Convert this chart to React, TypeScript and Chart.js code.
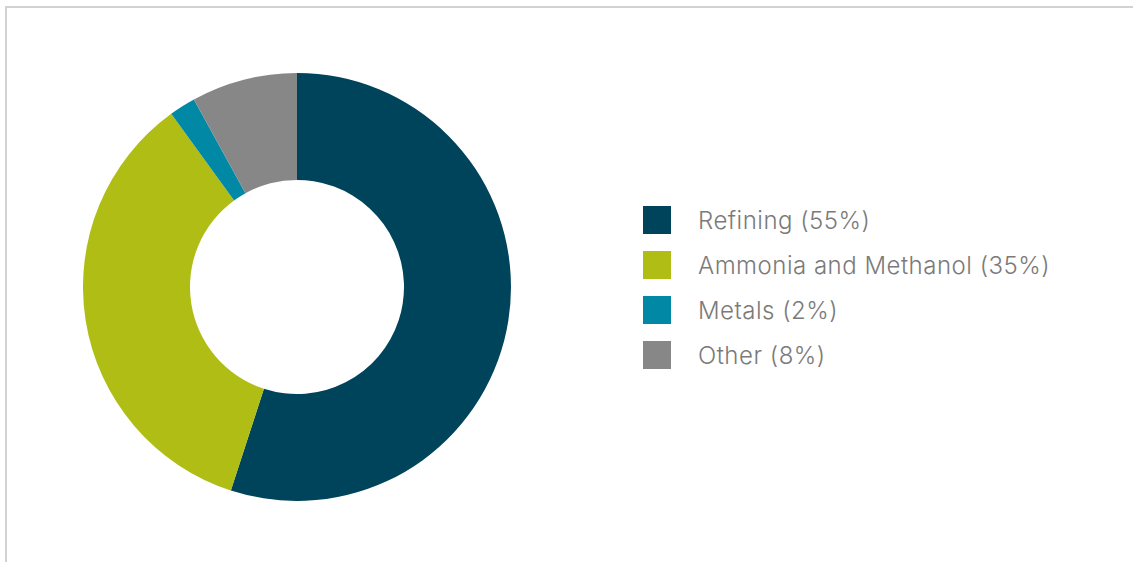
import React, { useEffect, useRef } from "react";
import { Chart, registerables } from "chart.js";

Chart.register(...registerables);

const categories = ["Refining", "Ammonia and Methanol", "Metals", "Other"];
const shares = [55, 35, 2, 8];
const colors = ["#00445C", "#AFBD14", "#0088A5", "#878787"];

export default function App() {
  const ref = useRef<HTMLCanvasElement | null>(null);

  useEffect(() => {
    if (!ref.current) return;
    const chart = new Chart(ref.current, {
      type: "doughnut",
      data: {
        labels: categories.map((c, i) => `${c} (${shares[i]}%)`),
        datasets: [
          {
            data: shares,
            backgroundColor: colors,
            borderWidth: 0,
          },
        ],
      },
      options: {
        animation: false,
        responsive: false,
        cutout: "50%",
        layout: { padding: 0 },
        plugins: {
          legend: { display: false },
          tooltip: { enabled: false },
        },
      },
    });
    return () => chart.destroy();
  }, []);

  return (
    <div
      style={{
        position: "absolute",
        left: 0,
        top: 0,
        width: 1133,
        height: 562,
        overflow: "hidden",
        background: "#fff",
      }}
    >
      <div
        style={{
          position: "absolute",
          left: 5,
          top: 6,
          width: 1140,
          height: 570,
          borderTop: "2px solid #d2d2d2",
          borderLeft: "2px solid #d2d2d2",
        }}
      />
      <canvas
        ref={ref}
        width={428}
        height={428}
        style={{ position: "absolute", left: 83, top: 73, width: 428, height: 428 }}
      />
      <div style={{ position: "absolute", left: 643, top: 206 }}>
        {categories.map((c, i) => (
          <div
            key={c}
            style={{
              display: "flex",
              alignItems: "center",
              height: 28,
              marginBottom: 17,
            }}
          >
            <div style={{ width: 28, height: 28, background: colors[i], flex: "none" }} />
            <span
              style={{
                marginLeft: 27,
                marginTop: 2,
                fontFamily: "Inter, 'Open Sans', sans-serif",
                fontWeight: 300,
                fontSize: 24,
                letterSpacing: 0.5,
                color: "#7a7a7a",
                whiteSpace: "nowrap",
                lineHeight: "28px",
              }}
            >
              {`${c} (${shares[i]}%)`}
            </span>
          </div>
        ))}
      </div>
    </div>
  );
}
